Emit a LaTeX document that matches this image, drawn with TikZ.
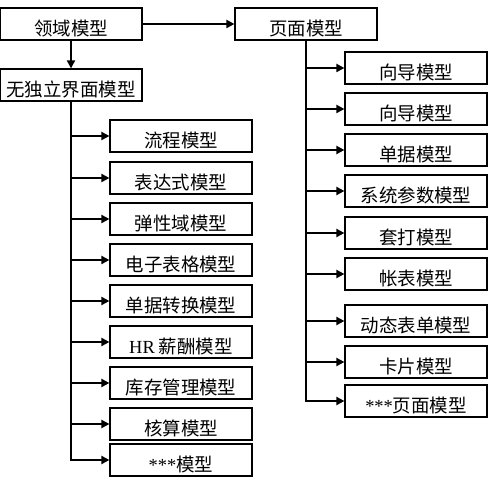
\documentclass[tikz,border=0pt]{standalone}
\usepackage{fontspec}
\setmainfont{Liberation Serif}
\newfontfamily\cjk{Noto Sans CJK SC}
\usepackage{tikz}
\usetikzlibrary{arrows.meta, positioning}

\begin{document}
\begin{tikzpicture}[
    x=0.02cm, y=-0.02cm,
    font=\cjk\fontsize{10.5}{12}\selectfont,
    mbox/.style={rectangle, draw=black, line width=0.7pt, fill=white,
                 minimum width=2.84cm, inner xsep=0pt, inner ysep=0.09cm,
                 text height=0.46cm, text depth=0pt},
    a/.style={-{Triangle[length=4.5pt, width=4.5pt]}, line width=1.1pt},
]
\useasboundingbox (0,0) rectangle (500,482);

% top level
\node[mbox] (dom)  at (71, 24)  {领域模型};
\node[mbox] (page) at (306, 24) {页面模型};
\node[mbox] (nui)  at (71, 85)  {无独立界面模型};

% models without own interface
\node[mbox] (flow) at (181, 136) {流程模型};
\node[mbox] (expr) at (181, 178) {表达式模型};
\node[mbox] (elas) at (181, 219) {弹性域模型};
\node[mbox] (xls)  at (181, 260) {电子表格模型};
\node[mbox] (conv) at (181, 301) {单据转换模型};
\node[mbox] (hr)   at (181, 342) {{\rmfamily HR} 薪酬模型};
\node[mbox] (inv)  at (181, 383) {库存管理模型};
\node[mbox] (acc)  at (181, 424) {核算模型};
\node[mbox] (etc)  at (181, 460) {{\rmfamily ***}模型};

% page models
\node[mbox] (wiz1) at (416, 68)  {向导模型};
\node[mbox] (wiz2) at (416, 109) {向导模型};
\node[mbox] (bill) at (416, 150) {单据模型};
\node[mbox] (sys)  at (416, 191) {系统参数模型};
\node[mbox] (prt)  at (416, 233) {套打模型};
\node[mbox] (rep)  at (416, 274) {帐表模型};
\node[mbox] (dyn)  at (416, 321) {动态表单模型};
\node[mbox] (card) at (416, 362) {卡片模型};
\node[mbox] (petc) at (416, 401) {{\rmfamily ***}页面模型};

\draw[a] (dom.east) -- (page.west);
\draw[a] (dom.south) -- (nui.north);

\draw[a] (nui.south) |- (flow.west);
\draw[a] (nui.south) |- (expr.west);
\draw[a] (nui.south) |- (elas.west);
\draw[a] (nui.south) |- (xls.west);
\draw[a] (nui.south) |- (conv.west);
\draw[a] (nui.south) |- (hr.west);
\draw[a] (nui.south) |- (inv.west);
\draw[a] (nui.south) |- (acc.west);
\draw[a] (nui.south) |- (etc.west);

\draw[a] (page.south) |- (wiz1.west);
\draw[a] (page.south) |- (wiz2.west);
\draw[a] (page.south) |- (bill.west);
\draw[a] (page.south) |- (sys.west);
\draw[a] (page.south) |- (prt.west);
\draw[a] (page.south) |- (rep.west);
\draw[a] (page.south) |- (dyn.west);
\draw[a] (page.south) |- (card.west);
\draw[a] (page.south) |- (petc.west);
\end{tikzpicture}
\end{document}
